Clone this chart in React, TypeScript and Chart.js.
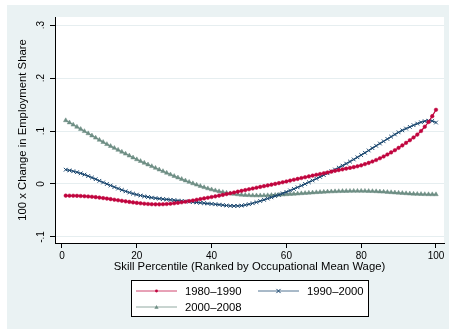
import React, { useEffect, useRef } from "react";
import { Chart, registerables } from "chart.js";

Chart.register(...registerables);

// ---- data ----
const percentiles = [
  1, 2, 3, 4, 5, 6, 7, 8, 9, 10, 11, 12, 13, 14, 15, 16, 17, 18, 19, 20,
  21, 22, 23, 24, 25, 26, 27, 28, 29, 30, 31, 32, 33, 34, 35, 36, 37, 38, 39, 40,
  41, 42, 43, 44, 45, 46, 47, 48, 49, 50, 51, 52, 53, 54, 55, 56, 57, 58, 59, 60,
  61, 62, 63, 64, 65, 66, 67, 68, 69, 70, 71, 72, 73, 74, 75, 76, 77, 78, 79, 80,
  81, 82, 83, 84, 85, 86, 87, 88, 89, 90, 91, 92, 93, 94, 95, 96, 97, 98, 99, 100,
];

const change1980_1990 = [
  -0.0220, -0.0221, -0.0222, -0.0224, -0.0227, -0.0231, -0.0236, -0.0242, -0.0249, -0.0257,
  -0.0266, -0.0276, -0.0286, -0.0297, -0.0307, -0.0318, -0.0328, -0.0338, -0.0348, -0.0357,
  -0.0365, -0.0372, -0.0378, -0.0382, -0.0384, -0.0384, -0.0382, -0.0378, -0.0372, -0.0365,
  -0.0356, -0.0346, -0.0335, -0.0323, -0.0311, -0.0298, -0.0285, -0.0272, -0.0259, -0.0246,
  -0.0233, -0.0220, -0.0206, -0.0191, -0.0176, -0.0160, -0.0145, -0.0130, -0.0115, -0.0100,
  -0.0085, -0.0070, -0.0055, -0.0041, -0.0027, -0.0013, 0.0002, 0.0017, 0.0032, 0.0048,
  0.0064, 0.0080, 0.0096, 0.0112, 0.0128, 0.0143, 0.0158, 0.0173, 0.0188, 0.0203,
  0.0218, 0.0233, 0.0248, 0.0262, 0.0276, 0.0290, 0.0304, 0.0318, 0.0334, 0.0352,
  0.0375, 0.0398, 0.0424, 0.0453, 0.0485, 0.0520, 0.0557, 0.0596, 0.0638, 0.0682,
  0.0728, 0.0776, 0.0826, 0.0878, 0.0932, 0.1000, 0.1080, 0.1170, 0.1280, 0.1400,
];

const change1990_2000 = [
  0.0270, 0.0256, 0.0240, 0.0222, 0.0201, 0.0177, 0.0150, 0.0121, 0.0091, 0.0060,
  0.0029, 0.0000, -0.0029, -0.0058, -0.0086, -0.0113, -0.0138, -0.0161, -0.0182, -0.0201,
  -0.0218, -0.0233, -0.0246, -0.0258, -0.0268, -0.0277, -0.0285, -0.0292, -0.0299, -0.0306,
  -0.0313, -0.0320, -0.0327, -0.0334, -0.0341, -0.0348, -0.0355, -0.0362, -0.0369, -0.0376,
  -0.0383, -0.0390, -0.0398, -0.0406, -0.0412, -0.0415, -0.0414, -0.0408, -0.0397, -0.0382,
  -0.0364, -0.0344, -0.0322, -0.0299, -0.0275, -0.0252, -0.0228, -0.0203, -0.0177, -0.0150,
  -0.0122, -0.0093, -0.0063, -0.0032, 0.0000, 0.0033, 0.0066, 0.0100, 0.0134, 0.0168,
  0.0203, 0.0238, 0.0273, 0.0309, 0.0346, 0.0384, 0.0423, 0.0463, 0.0504, 0.0546,
  0.0589, 0.0633, 0.0677, 0.0721, 0.0764, 0.0806, 0.0850, 0.0893, 0.0935, 0.0975,
  0.1012, 0.1046, 0.1077, 0.1110, 0.1140, 0.1165, 0.1185, 0.1195, 0.1190, 0.1160,
];

const change2000_2008 = [
  0.1200, 0.1159, 0.1118, 0.1077, 0.1036, 0.0995, 0.0954, 0.0913, 0.0872, 0.0831,
  0.0790, 0.0750, 0.0714, 0.0678, 0.0642, 0.0606, 0.0570, 0.0534, 0.0498, 0.0463,
  0.0430, 0.0398, 0.0366, 0.0334, 0.0302, 0.0270, 0.0240, 0.0209, 0.0178, 0.0148,
  0.0120, 0.0092, 0.0064, 0.0037, 0.0010, -0.0015, -0.0040, -0.0063, -0.0085, -0.0105,
  -0.0123, -0.0140, -0.0155, -0.0168, -0.0180, -0.0190, -0.0198, -0.0205, -0.0210, -0.0214,
  -0.0217, -0.0218, -0.0218, -0.0217, -0.0215, -0.0212, -0.0209, -0.0205, -0.0201, -0.0197,
  -0.0192, -0.0188, -0.0183, -0.0178, -0.0173, -0.0168, -0.0163, -0.0158, -0.0154, -0.0150,
  -0.0146, -0.0143, -0.0140, -0.0138, -0.0136, -0.0134, -0.0133, -0.0132, -0.0132, -0.0132,
  -0.0133, -0.0135, -0.0137, -0.0140, -0.0144, -0.0148, -0.0153, -0.0158, -0.0163, -0.0168,
  -0.0173, -0.0178, -0.0183, -0.0187, -0.0190, -0.0193, -0.0195, -0.0196, -0.0197, -0.0197,
];

const seriesLabels = ["1980–1990", "1990–2000", "2000–2008"];
const xTickValues = [0, 20, 40, 60, 80, 100];
const yTickValues = [-0.1, 0, 0.1, 0.2, 0.3];
const yTickLabels = ["-.1", "0", ".1", ".2", ".3"];
const xTitle = "Skill Percentile (Ranked by Occupational Mean Wage)";
const yTitle = "100 x Change in Employment Share";

// ---- styles ----
const FONT = "'Liberation Sans', Arial, Helvetica, sans-serif";
const COLORS = ["#C0053E", "#1A476F", "#6E8E84"];
const MARKERS = ["circle", "crossRot", "triangle"];
const MARKER_R = [1.8, 2.6, 2.6];
const GRAPH_BG = "#EAF2F3";
const GRID = "#E6EEF0";

function drawMarker(ctx: CanvasRenderingContext2D, kind: string, x: number, y: number, r: number, color: string) {
  ctx.save();
  ctx.fillStyle = color;
  ctx.strokeStyle = color;
  ctx.lineWidth = 1;
  ctx.beginPath();
  if (kind === "circle") {
    ctx.arc(x, y, r, 0, Math.PI * 2);
    ctx.fill();
  } else if (kind === "crossRot") {
    ctx.moveTo(x - r, y - r);
    ctx.lineTo(x + r, y + r);
    ctx.moveTo(x + r, y - r);
    ctx.lineTo(x - r, y + r);
    ctx.stroke();
  } else {
    ctx.moveTo(x, y - r);
    ctx.lineTo(x + r, y + r * 0.8);
    ctx.lineTo(x - r, y + r * 0.8);
    ctx.closePath();
    ctx.fill();
  }
  ctx.restore();
}

const stataPlugin = {
  id: "stataLook",
  beforeDraw(chart: any) {
    const { ctx, chartArea: a, width, height } = chart;
    ctx.save();
    ctx.fillStyle = "#ffffff";
    ctx.fillRect(0, 0, width, height);
    ctx.fillStyle = GRAPH_BG;
    ctx.fillRect(7, 5, width - 7, height - 5);
    ctx.fillStyle = "#ffffff";
    ctx.fillRect(a.left, a.top, a.right - a.left, a.bottom - a.top);
    ctx.restore();
  },
  afterDraw(chart: any) {
    const { ctx, chartArea: a } = chart;
    const ys = chart.scales.y;
    ctx.save();
    ctx.fillStyle = "#000";
    // y tick labels (rotated)
    ctx.font = `10px ${FONT}`;
    ctx.textAlign = "center";
    ctx.textBaseline = "middle";
    yTickValues.forEach((v, i) => {
      const py = ys.getPixelForValue(v);
      ctx.save();
      ctx.translate(41, py);
      ctx.rotate(-Math.PI / 2);
      ctx.fillText(yTickLabels[i], 0, 0);
      ctx.restore();
    });
    // axis titles
    ctx.font = `11.3px ${FONT}`;
    ctx.save();
    ctx.translate(23, (a.top + a.bottom) / 2);
    ctx.rotate(-Math.PI / 2);
    ctx.fillText(yTitle, 0, 0);
    ctx.restore();
    ctx.fillText(xTitle, (a.left + a.right) / 2, 267);

    // legend box
    const bx = 131, by = 280, bw = 238, bh = 37;
    ctx.fillStyle = "#ffffff";
    ctx.fillRect(bx, by, bw, bh);
    ctx.strokeStyle = "#000";
    ctx.lineWidth = 1;
    ctx.strokeRect(bx + 0.5, by + 0.5, bw - 1, bh - 1);
    const slots = [
      { lx: 136, ly: 291 },
      { lx: 258, ly: 291 },
      { lx: 136, ly: 307 },
    ];
    ctx.font = `11.3px ${FONT}`;
    ctx.textAlign = "left";
    ctx.textBaseline = "middle";
    chart.data.datasets.forEach((ds: any, i: number) => {
      const s = slots[i];
      ctx.save();
      ctx.strokeStyle = COLORS[i];
      ctx.globalAlpha = 0.75;
      ctx.lineWidth = 1;
      ctx.beginPath();
      ctx.moveTo(s.lx, s.ly);
      ctx.lineTo(s.lx + 41, s.ly);
      ctx.stroke();
      ctx.restore();
      drawMarker(ctx, MARKERS[i], s.lx + 20.5, s.ly, MARKER_R[i] * 0.8, COLORS[i]);
      ctx.fillStyle = "#000";
      ctx.fillText(ds.label, s.lx + 49, s.ly + 0.5);
    });
    ctx.restore();
  },
};

export default function App() {
  const ref = useRef<HTMLCanvasElement | null>(null);

  useEffect(() => {
    if (!ref.current) return;
    const seriesValues = [change1980_1990, change1990_2000, change2000_2008];
    const chart = new Chart(ref.current, {
      type: "line",
      data: {
        datasets: seriesValues.map((vals, i) => ({
          label: seriesLabels[i],
          data: percentiles.map((p, j) => ({ x: p, y: vals[j] })),
          borderColor: COLORS[i],
          backgroundColor: COLORS[i],
          borderWidth: 1.2,
          pointStyle: MARKERS[i] as any,
          pointRadius: MARKER_R[i],
          pointBorderWidth: i === 1 ? 1 : 0.5,
          pointBorderColor: COLORS[i],
          pointBackgroundColor: COLORS[i],
          tension: 0,
          fill: false,
        })),
      },
      options: {
        responsive: false,
        animation: false,
        devicePixelRatio: 1,
        layout: { padding: { left: 0, right: 5, top: 17, bottom: 0 } },
        plugins: {
          legend: { display: false },
          tooltip: { enabled: false },
        },
        scales: {
          x: {
            type: "linear",
            min: -1.87,
            max: 102.14,
            afterBuildTicks: (s: any) => {
              s.ticks = xTickValues.map((v) => ({ value: v }));
            },
            afterFit: (s: any) => {
              s.height = 86;
            },
            grid: {
              drawOnChartArea: false,
              drawTicks: true,
              tickLength: 5,
              tickColor: "#000",
              color: "#000",
            },
            border: { color: "#000", width: 1 },
            ticks: {
              padding: 2,
              color: "#000",
              font: { family: FONT, size: 10 },
              maxRotation: 0,
              autoSkip: false,
              callback: (v: any) => String(v),
            },
          },
          y: {
            type: "linear",
            min: -0.1114,
            max: 0.3152,
            afterBuildTicks: (s: any) => {
              s.ticks = yTickValues.map((v) => ({ value: v }));
            },
            afterFit: (s: any) => {
              s.width = 55;
            },
            grid: {
              color: GRID,
              tickColor: "#000",
              tickLength: 5,
              lineWidth: 1,
            },
            border: { color: "#000", width: 1 },
            ticks: { display: false },
          },
        },
      },
      plugins: [stataPlugin],
    });
    return () => chart.destroy();
  }, []);

  return (
    <div style={{ position: "absolute", left: 0, top: 0, width: 449, height: 329 }}>
      <canvas ref={ref} width={449} height={329} style={{ display: "block", width: 449, height: 329 }} />
    </div>
  );
}
